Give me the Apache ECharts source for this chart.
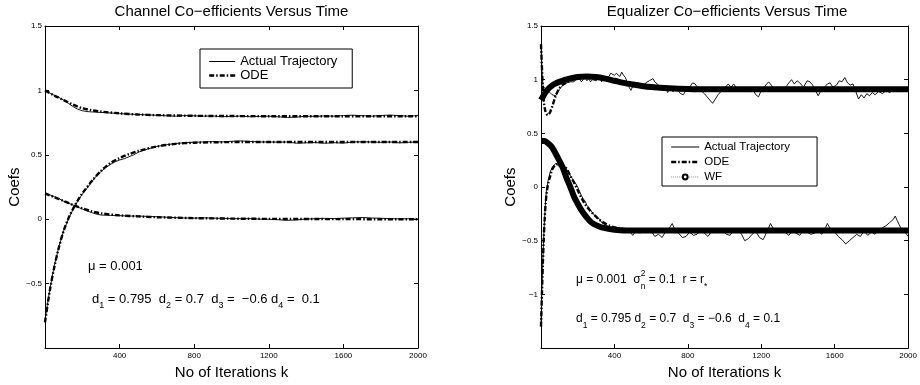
<!DOCTYPE html>
<html><head><meta charset="utf-8">
<script src="https://cdn.jsdelivr.net/npm/echarts@6/dist/echarts.min.js"></script>
<style>html,body{margin:0;padding:0;background:#fff}#c{width:920px;height:385px}</style>
</head><body><div id="c"></div>
<script>
// ---------- DATA ----------
const titles = ['Channel Co\u2212efficients Versus Time', 'Equalizer Co\u2212efficients Versus Time'];
const xName = 'No of Iterations k';
const yName = 'Coefs';
const legendLeft = ['Actual Trajectory', 'ODE'];
const legendRight = ['Actual Trajectory', 'ODE', 'WF'];

// Left panel: channel coefficients
const chanA_actual = [[0,1.0],[25,0.98],[50,0.962],[75,0.945],[100,0.925],[125,0.9],[150,0.875],[175,0.855],[200,0.842],[225,0.836],[250,0.833],[300,0.829],[350,0.825],[400,0.82],[450,0.816],[500,0.813],[550,0.81],[600,0.807],[650,0.803],[700,0.8],[750,0.805],[800,0.803],[850,0.8],[900,0.802],[950,0.796],[1000,0.798],[1050,0.801],[1100,0.796],[1150,0.798],[1200,0.8],[1250,0.795],[1300,0.79],[1350,0.793],[1400,0.8],[1450,0.798],[1500,0.802],[1550,0.8],[1600,0.805],[1650,0.808],[1700,0.804],[1750,0.8],[1800,0.805],[1850,0.809],[1900,0.804],[1950,0.8],[2000,0.805]];
const chanA_ode = [[0,1.0],[50,0.96],[100,0.925],[150,0.89],[200,0.862],[250,0.846],[300,0.836],[400,0.822],[500,0.813],[600,0.808],[800,0.803],[1000,0.801],[1200,0.8],[1600,0.8],[2000,0.8]];
const chanB_actual = [[0,-0.79],[12,-0.67],[25,-0.55],[50,-0.36],[75,-0.21],[100,-0.09],[125,0.0],[150,0.075],[175,0.14],[200,0.195],[225,0.24],[250,0.29],[275,0.335],[300,0.37],[325,0.4],[350,0.425],[375,0.445],[400,0.46],[425,0.47],[450,0.485],[475,0.5],[500,0.52],[550,0.545],[600,0.565],[650,0.578],[700,0.588],[750,0.594],[800,0.598],[850,0.6],[900,0.603],[950,0.6],[1000,0.605],[1050,0.608],[1100,0.604],[1150,0.6],[1200,0.6],[1250,0.598],[1300,0.6],[1350,0.59],[1400,0.593],[1450,0.595],[1500,0.59],[1550,0.594],[1600,0.591],[1650,0.6],[1700,0.601],[1750,0.6],[1800,0.597],[1850,0.6],[1900,0.593],[1950,0.597],[2000,0.6]];
const chanB_ode = [[0,-0.8],[25,-0.56],[50,-0.37],[75,-0.215],[100,-0.09],[125,0.005],[150,0.08],[175,0.145],[200,0.2],[250,0.295],[300,0.375],[350,0.435],[400,0.475],[450,0.505],[500,0.53],[600,0.565],[700,0.585],[800,0.594],[1000,0.599],[1200,0.6],[2000,0.6]];
const chanC_actual = [[0,0.205],[25,0.19],[50,0.175],[75,0.16],[100,0.14],[125,0.125],[150,0.11],[175,0.095],[200,0.08],[225,0.065],[250,0.052],[275,0.04],[300,0.033],[350,0.03],[400,0.028],[450,0.025],[500,0.025],[550,0.022],[600,0.02],[650,0.016],[700,0.012],[750,0.01],[800,0.009],[850,0.011],[900,0.009],[950,0.007],[1000,0.005],[1050,0.004],[1100,0.005],[1150,0.001],[1200,0.0],[1250,-0.004],[1300,-0.008],[1350,-0.005],[1400,0.002],[1450,0.004],[1500,0.007],[1550,0.005],[1600,0.009],[1650,0.011],[1700,0.014],[1750,0.01],[1800,0.008],[1850,0.005],[1900,0.003],[1950,0.004],[2000,0.0]];
const chanC_ode = [[0,0.2],[50,0.172],[100,0.142],[150,0.112],[200,0.085],[250,0.062],[300,0.046],[400,0.03],[500,0.022],[600,0.016],[800,0.009],[1000,0.005],[1200,0.003],[1600,0.001],[2000,0.0]];

// Right panel: equalizer coefficients
const eqU_actual = [[0,1.33],[5,1.1],[10,0.95],[15,0.93],[20,0.94],[30,0.91],[40,0.9],[50,0.88],[60,0.86],[70,0.85],[80,0.85],[90,0.88],[100,0.91],[110,0.93],[120,0.95],[130,0.96],[140,0.97],[150,0.96],[160,0.98],[170,0.99],[180,0.98],[190,1.0],[200,0.99],[210,1.01],[220,0.98],[230,1.0],[240,1.02],[250,0.99],[260,1.01],[270,0.98],[280,1.0],[290,1.01],[300,0.99],[310,1.0],[320,1.02],[330,0.98],[340,1.0],[350,1.01],[360,0.99],[370,1.03],[380,1.06],[390,1.05],[400,1.04],[410,1.06],[420,1.05],[430,1.03],[440,1.07],[450,1.04],[460,1.02],[470,0.97],[480,0.93],[490,0.9],[500,0.94],[510,0.95],[520,0.93],[530,0.96],[540,0.94],[550,0.95],[560,0.93],[570,0.97],[580,0.96],[590,0.99],[600,0.98],[610,1.01],[620,0.98],[630,0.97],[640,0.95],[650,0.93],[660,0.91],[670,0.95],[680,0.92],[690,0.88],[700,0.91],[720,0.89],[740,0.92],[760,0.87],[775,0.86],[790,0.9],[810,0.93],[825,0.97],[840,0.96],[855,0.92],[870,0.9],[890,0.87],[905,0.84],[920,0.81],[935,0.78],[950,0.82],[965,0.86],[980,0.89],[1000,0.92],[1020,0.96],[1035,0.93],[1050,0.96],[1070,0.91],[1090,0.9],[1110,0.92],[1130,0.89],[1150,0.92],[1170,0.86],[1185,0.84],[1200,0.9],[1220,0.94],[1240,0.98],[1255,0.95],[1270,0.91],[1290,0.93],[1310,0.9],[1330,0.92],[1350,0.97],[1365,1.0],[1380,0.96],[1395,0.99],[1410,0.97],[1430,0.93],[1450,0.99],[1465,0.98],[1480,0.95],[1495,0.9],[1510,0.85],[1525,0.9],[1545,0.93],[1560,0.96],[1575,0.97],[1590,0.93],[1610,0.95],[1625,0.99],[1640,0.98],[1655,1.02],[1670,0.97],[1685,0.95],[1700,0.96],[1715,0.89],[1730,0.82],[1745,0.86],[1760,0.83],[1775,0.87],[1790,0.85],[1805,0.88],[1820,0.86],[1840,0.89],[1860,0.87],[1880,0.9],[1900,0.88],[1920,0.91],[1940,0.89],[1960,0.92],[1980,0.9],[2000,0.93]];
const eqU_ode = [[0,1.33],[8,1.0],[15,0.8],[25,0.7],[37,0.67],[50,0.7],[65,0.77],[80,0.85],[100,0.92],[120,0.955],[150,0.985],[200,1.015],[250,1.03],[300,1.025],[350,1.01],[400,0.99],[450,0.97],[500,0.955],[600,0.932],[700,0.92],[800,0.913],[1000,0.91],[2000,0.91]];
const eqU_wf = [[0,0.81],[10,0.84],[20,0.87],[40,0.915],[60,0.945],[80,0.965],[100,0.98],[130,0.998],[160,1.012],[200,1.025],[250,1.03],[300,1.025],[350,1.01],[400,0.99],[450,0.97],[500,0.955],[550,0.942],[600,0.932],[700,0.92],[800,0.913],[900,0.91],[1000,0.91],[1200,0.91],[2000,0.91]];
const eqL_actual = [[0,-1.28],[5,-0.95],[10,-0.7],[15,-0.45],[20,-0.28],[25,-0.13],[30,-0.03],[40,0.07],[50,0.14],[60,0.18],[70,0.2],[80,0.22],[90,0.21],[100,0.19],[110,0.2],[120,0.17],[130,0.16],[140,0.165],[150,0.13],[160,0.12],[170,0.08],[180,0.05],[190,0.03],[200,0.0],[210,-0.04],[220,-0.08],[230,-0.11],[240,-0.13],[250,-0.17],[260,-0.19],[270,-0.2],[280,-0.24],[290,-0.25],[300,-0.28],[310,-0.29],[320,-0.3],[330,-0.33],[340,-0.32],[350,-0.35],[360,-0.34],[370,-0.37],[380,-0.36],[390,-0.38],[400,-0.37],[420,-0.4],[440,-0.38],[460,-0.42],[480,-0.41],[500,-0.45],[520,-0.4],[540,-0.43],[560,-0.39],[580,-0.42],[600,-0.41],[620,-0.46],[640,-0.44],[660,-0.47],[680,-0.41],[700,-0.38],[715,-0.34],[730,-0.4],[750,-0.43],[770,-0.47],[790,-0.46],[810,-0.42],[830,-0.45],[850,-0.44],[870,-0.4],[890,-0.43],[910,-0.46],[930,-0.41],[950,-0.39],[970,-0.42],[990,-0.41],[1010,-0.44],[1030,-0.45],[1050,-0.4],[1070,-0.41],[1090,-0.43],[1110,-0.5],[1130,-0.48],[1150,-0.44],[1170,-0.41],[1190,-0.47],[1210,-0.49],[1230,-0.42],[1250,-0.34],[1270,-0.4],[1290,-0.41],[1310,-0.39],[1330,-0.42],[1350,-0.45],[1370,-0.41],[1390,-0.43],[1410,-0.45],[1430,-0.4],[1450,-0.42],[1470,-0.44],[1490,-0.43],[1510,-0.41],[1530,-0.44],[1550,-0.38],[1560,-0.34],[1580,-0.4],[1600,-0.42],[1620,-0.46],[1640,-0.49],[1660,-0.53],[1680,-0.5],[1700,-0.47],[1720,-0.44],[1740,-0.46],[1760,-0.41],[1780,-0.45],[1800,-0.42],[1820,-0.44],[1840,-0.4],[1860,-0.38],[1880,-0.36],[1900,-0.33],[1920,-0.3],[1930,-0.27],[1940,-0.31],[1960,-0.38],[1980,-0.41],[1990,-0.4],[2000,-0.46]];
const eqL_ode = [[0,-1.3],[5,-1.0],[10,-0.72],[15,-0.48],[20,-0.3],[25,-0.16],[32,-0.04],[40,0.04],[50,0.1],[60,0.16],[75,0.2],[90,0.215],[105,0.215],[120,0.2],[140,0.17],[150,0.14],[165,0.09],[185,0.025],[200,-0.03],[220,-0.1],[240,-0.16],[260,-0.205],[290,-0.26],[330,-0.32],[380,-0.365],[430,-0.385],[500,-0.398],[600,-0.403],[2000,-0.405]];
const eqL_wf = [[0,0.43],[20,0.43],[40,0.405],[60,0.37],[80,0.31],[100,0.245],[120,0.175],[140,0.08],[150,0.04],[160,0.0],[180,-0.09],[200,-0.155],[220,-0.215],[250,-0.285],[275,-0.33],[300,-0.355],[330,-0.375],[400,-0.397],[500,-0.405],[2000,-0.405]];

// ---------- CHART ----------
const FONT = '"Liberation Sans", Arial, Helvetica, sans-serif';
const minus = v => String(v).replace('-', '\u2212');

function xAx(gi, pos, main) {
  return {
    type: 'value', gridIndex: gi, position: pos, min: 0, max: 2000, interval: 400,
    axisLine: {show: true, onZero: false, lineStyle: {color: '#000', width: 1}},
    axisTick: {show: true, inside: true, length: 4, lineStyle: {color: '#000'}},
    axisLabel: {show: main, showMinLabel: false, fontSize: 8, color: '#000', fontFamily: FONT, margin: 4, formatter: v => String(v)},
    splitLine: {show: false},
    name: main ? xName : '', nameLocation: 'middle', nameGap: 14,
    nameTextStyle: {fontSize: 15, color: '#000', fontFamily: FONT}
  };
}
function yAx(gi, pos, main, mn, gap) {
  return {
    type: 'value', gridIndex: gi, position: pos, min: mn, max: 1.5, interval: 0.5,
    axisLine: {show: true, onZero: false, lineStyle: {color: '#000', width: 1}},
    axisTick: {show: true, inside: true, length: 4, lineStyle: {color: '#000'}},
    axisLabel: {show: main, showMinLabel: false, fontSize: 8, color: '#000', fontFamily: FONT, margin: 3, formatter: minus},
    splitLine: {show: false},
    name: main ? yName : '', nameLocation: 'middle', nameGap: gap,
    nameTextStyle: {fontSize: 15, color: '#000', fontFamily: FONT}
  };
}

const odeDash = [5, 2, 1.5, 2];
const odeStyle = {color: '#000', width: 2.4, type: odeDash};
function act(data, xi, yi) {
  return {name: 'Actual Trajectory', type: 'line', xAxisIndex: xi, yAxisIndex: yi, data: data,
    symbol: 'none', lineStyle: {color: '#000', width: 0.9}, itemStyle: {color: '#000'}, z: 2, animation: false};
}
function ode(data, xi, yi) {
  return {name: 'ODE', type: 'line', xAxisIndex: xi, yAxisIndex: yi, data: data, smooth: 0.3,
    symbol: 'none', lineStyle: odeStyle, itemStyle: {color: '#000'}, z: 3, animation: false};
}
function wf(data, xi, yi) {
  return {name: 'WF', type: 'line', xAxisIndex: xi, yAxisIndex: yi, data: data, smooth: 0.3,
    symbol: 'emptyCircle', showSymbol: false, symbolSize: 4,
    lineStyle: {color: '#000', width: 6}, itemStyle: {color: '#000'}, z: 4, animation: false};
}

const legActual = {name: legendRight[0], itemStyle: {opacity: 0}, lineStyle: {color: '#000', width: 1, type: 'solid'}};
const legOde = {name: legendRight[1], itemStyle: {opacity: 0}, lineStyle: {color: '#000', width: 2.4, type: odeDash}};
const legWf = {name: legendRight[2], itemStyle: {color: '#000'}, lineStyle: {type: 'dotted', color: '#888', width: 1}};

const richL = {
  n: {fontSize: 13, lineHeight: 22, fontFamily: FONT, color: '#000'},
  s: {fontSize: 9, lineHeight: 9, verticalAlign: 'bottom', fontFamily: FONT, color: '#000'}
};
const richR = {
  n: {fontSize: 12, lineHeight: 22, fontFamily: FONT, color: '#000'},
  s: {fontSize: 8.5, lineHeight: 9, verticalAlign: 'bottom', fontFamily: FONT, color: '#000'},
  sup: {fontSize: 8.5, lineHeight: 9, verticalAlign: 'top', width: 0, fontFamily: FONT, color: '#000'}
};

const option = {
  backgroundColor: '#fff',
  animation: false,
  grid: [
    {left: 45, top: 26, width: 373, height: 324, containLabel: false},
    {left: 541, top: 26, width: 372, height: 324, containLabel: false}
  ],
  xAxis: [xAx(0, 'bottom', true), xAx(0, 'top', false), xAx(1, 'bottom', true), xAx(1, 'top', false)],
  yAxis: [yAx(0, 'left', true, -1, 15), yAx(0, 'right', false, -1, 15), yAx(1, 'left', true, -1.5, 17), yAx(1, 'right', false, -1.5, 17)],
  legend: [
    {data: [legActual, legOde], orient: 'vertical', left: 200, top: 49, padding: [6, 15, 6, 8], itemGap: 1,
     itemWidth: 26, itemHeight: 10, borderColor: '#000', borderWidth: 1, backgroundColor: '#fff',
     textStyle: {fontSize: 13, color: '#000', fontFamily: FONT}, selectedMode: false},
    {data: [legActual, legOde, legWf],
     orient: 'vertical', left: 662, top: 137, padding: [4, 27, 3, 8], itemGap: 3,
     itemWidth: 28, itemHeight: 6, borderColor: '#000', borderWidth: 1, backgroundColor: '#fff',
     textStyle: {fontSize: 11.5, color: '#000', fontFamily: FONT}, selectedMode: false}
  ],
  graphic: [
    {type: 'text', x: 231.5, y: 12, style: {text: titles[0], align: 'center', verticalAlign: 'middle', fontSize: 15, fontFamily: FONT, fill: '#000'}},
    {type: 'text', x: 727, y: 12, style: {text: titles[1], align: 'center', verticalAlign: 'middle', fontSize: 15, fontFamily: FONT, fill: '#000'}},
    {type: 'text', left: 88, top: 260, style: {text: '{n|\u03bc = 0.001}', rich: richL}},
    {type: 'text', left: 92, top: 293, style: {text: '{n|d}{s|1}{n| = 0.795  d}{s|2}{n| = 0.7  d}{s|3}{n| =  \u22120.6 d}{s|4}{n| =  0.1}', rich: richL}},
    {type: 'text', left: 576, top: 269, style: {text: '{n|\u03bc = 0.001  \u03c3}{sup|2}{s|n}{n| = 0.1  r = r}{s|*}', rich: richR}},
    {type: 'text', left: 576, top: 313, style: {text: '{n|d}{s|1}{n| = 0.795 d}{s|2}{n| = 0.7  d}{s|3}{n| = \u22120.6  d}{s|4}{n| = 0.1}', rich: richR}}
  ],
  series: [
    act(chanA_actual, 0, 0), act(chanB_actual, 0, 0), act(chanC_actual, 0, 0),
    ode(chanA_ode, 0, 0), ode(chanB_ode, 0, 0), ode(chanC_ode, 0, 0),
    act(eqU_actual, 2, 2), act(eqL_actual, 2, 2),
    ode(eqU_ode, 2, 2), ode(eqL_ode, 2, 2),
    wf(eqU_wf, 2, 2), wf(eqL_wf, 2, 2)
  ]
};
const chart = echarts.init(document.getElementById('c'), null, {renderer: 'canvas'});
chart.setOption(option);
</script></body></html>
